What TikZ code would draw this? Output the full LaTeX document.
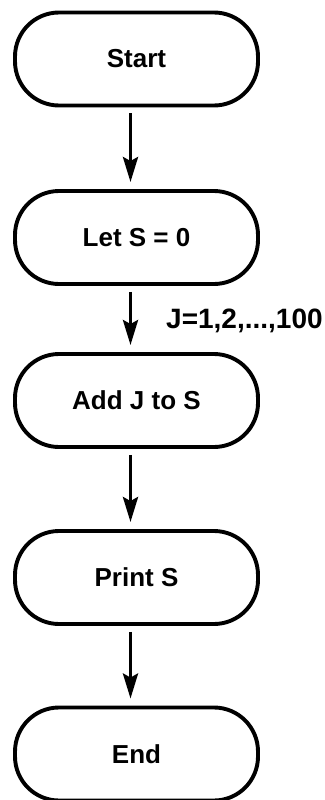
\documentclass[tikz,border=0pt]{standalone}
\usepackage{fontspec}
\setmainfont{Liberation Sans}
\usetikzlibrary{arrows.meta}

\begin{document}
\begin{tikzpicture}[x=1pt,y=-1pt,
		term/.style={draw,line width=3.9pt,rounded corners=44pt,minimum width=243pt,minimum height=93pt,font=\fontsize{26}{30}\selectfont\bfseries},
		flow/.style={line width=3.6pt,-{Stealth[length=25pt,width=15pt,inset=4pt]},shorten <=6pt,shorten >=7pt}]
		\useasboundingbox (0,0) rectangle (324,800);
		\node [term] at (136.5,59) (start) {Start};
		\node [term] at (136.5,237.5) (lets) {Let S = 0};
		\node [term] at (136.5,400.5) (addj) {Add J to S};
		\node [term] at (136.5,577.5) (prnt) {Print S};
		\node [term] at (136.5,754) (stop) {End};
		\draw [flow] ([xshift=-6pt]start.south) -- ([xshift=-6pt]lets.north);
		\draw [flow] ([xshift=-6pt]lets.south) -- ([xshift=-6pt]addj.north);
		\draw [flow] ([xshift=-6pt]addj.south) -- ([xshift=-6pt]prnt.north);
		\draw [flow] ([xshift=-6pt]prnt.south) -- ([xshift=-6pt]stop.north);
		\node [anchor=west,inner sep=0pt,font=\fontsize{28}{30}\selectfont\bfseries] at (166,321) (loop) {J=1,2,...,100};
\end{tikzpicture}
\end{document}
